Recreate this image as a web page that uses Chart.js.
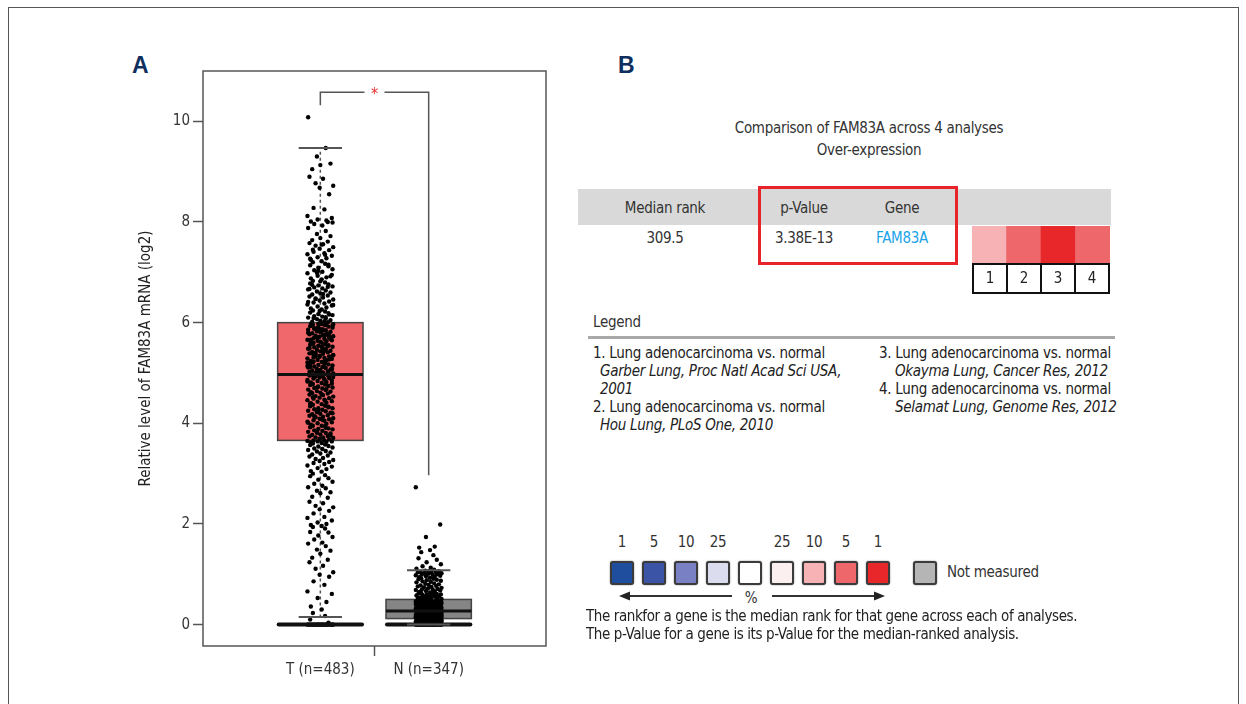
<!doctype html>
<html>
<head>
<meta charset="utf-8">
<title>FAM83A expression</title>
<script src="https://cdn.jsdelivr.net/npm/chart.js"></script>
<style>
  body { margin:0; width:1246px; height:704px; background:#fff; position:relative; overflow:hidden;
         font-family:'Liberation Sans Narrow','DejaVu Sans Condensed',sans-serif; color:#222; }
  .frame { position:absolute; left:8px; top:7px; width:1229px; height:740px; border:1.5px solid #555; }
  .t { position:absolute; white-space:nowrap; line-height:18px; font-size:15px; letter-spacing:-0.3px; }
  .c { transform:translate(-50%,-50%); }
  .l { transform:translate(0,-50%); }
  .panel { position:absolute; font-family:'Liberation Sans','DejaVu Sans',sans-serif; font-weight:bold;
           font-size:23px; color:#0f2f5f; line-height:24px; }
  #chartA { position:absolute; left:120px; top:40px; }
  #heat { position:absolute; left:972px; top:226px; }
  .numrow { position:absolute; left:972px; top:263px; width:138px; height:31px; display:flex;
            box-sizing:border-box; border:2px solid #111; }
  .numrow div { flex:1; border-left:2px solid #111; text-align:center; line-height:27px; font-size:15px; }
  .numrow div:first-child { border-left:none; }
</style>
</head>
<body>
<div class="frame"></div>
<div class="panel" style="left:132px; top:53px;">A</div>
<div class="panel" style="left:618px; top:53px;">B</div>
<canvas id="chartA" width="440" height="660"></canvas>

<div id="panelB"></div>
<canvas id="heat" width="138" height="37"></canvas>

<script>
// ---- panel A data ----
const categories = ['T (n=483)', 'N (n=347)'];
const boxQ1 = [3.66, 0.12];
const boxMedian = [4.97, 0.27];
const boxQ3 = [6.0, 0.5];
const whiskerLow = [0.15, 0];
const whiskerHigh = [9.47, 1.08];
const yTicks = [0, 2, 4, 6, 8, 10];
const sigBracketY = 10.58;
const sigBracketStart = [10.32, 2.97];
const sigLabel = '*';

const tumorValues = [
  0,0,0,0,0,0,0,0,0,0,0,0,0,0,0,0,0,0,0,0,0,0,0,0,0,
  0.04,0.1,0.17,0.23,0.3,0.36,0.45,0.53,0.61,0.66,0.79,0.86,0.95,0.99,
  1.04,1.11,1.17,1.24,1.29,1.33,1.41,1.47,1.49,1.56,1.61,1.63,1.69,1.74,1.77,1.83,1.84,1.91,1.94,1.96,1.98,2.0,
  2.03,2.07,2.12,2.14,2.21,2.26,2.29,2.33,2.36,2.41,2.44,2.52,2.54,2.61,2.63,2.66,2.71,2.73,2.76,2.8,2.84,2.88,2.91,2.95,2.97,
  3.0,3.04,3.05,3.09,3.11,3.14,3.16,3.19,3.21,3.23,3.25,3.27,3.29,3.31,3.34,3.36,3.38,3.4,3.42,3.44,3.45,3.47,3.49,3.5,
  3.52,3.54,3.55,3.57,3.58,3.6,3.61,3.62,3.63,3.64,3.64,
  3.65,3.66,3.66,3.68,3.69,3.71,3.72,3.72,3.74,3.75,3.77,3.78,3.8,3.81,3.81,3.83,3.85,3.86,3.88,3.89,3.9,3.92,3.94,3.95,
  3.95,3.97,3.99,4.0,4.02,4.03,4.05,4.06,4.08,4.09,4.1,4.12,4.13,4.15,4.16,4.18,4.19,4.21,4.22,4.24,4.25,4.27,4.28,4.3,
  4.3,4.32,4.34,4.35,4.37,4.38,4.4,4.41,4.43,4.44,4.46,4.47,4.49,4.5,4.51,4.53,4.54,4.56,4.57,4.59,4.6,4.61,4.63,4.64,
  4.66,4.67,4.69,4.7,4.71,4.73,4.74,4.76,4.77,4.78,4.8,4.81,4.82,4.84,4.85,4.86,4.87,4.89,4.9,4.91,4.92,4.93,4.94,4.95,
  4.96,4.97,3.7,3.76,3.84,3.91,4.01,4.07,4.14,4.2,4.26,4.33,4.39,4.45,4.52,4.58,4.62,4.68,4.72,4.79,4.83,4.88,4.93,4.96,
  4.98,4.99,5.0,5.01,5.02,5.03,5.05,5.06,5.07,5.08,5.1,5.11,5.12,5.13,5.15,5.16,5.17,5.19,5.2,5.21,5.22,5.24,5.25,5.26,
  5.28,5.29,5.3,5.31,5.33,5.34,5.35,5.37,5.38,5.39,5.41,5.42,5.43,5.44,5.46,5.47,5.48,5.5,5.51,5.52,5.54,5.55,5.56,5.57,
  5.59,5.6,5.61,5.63,5.64,5.65,5.66,5.68,5.69,5.7,5.72,5.73,5.74,5.75,5.77,5.78,5.79,5.81,5.82,5.83,5.85,5.86,5.87,5.88,
  5.9,5.91,5.92,5.93,5.95,5.96,5.97,5.98,5.99,5.04,5.09,5.14,5.18,5.23,5.27,5.32,5.36,5.4,5.45,5.49,5.53,5.58,5.62,5.67,
  5.71,5.76,5.8,5.84,5.89,5.94,5.98,5.0,5.12,5.26,5.38,5.52,5.66,5.78,5.9,5.07,5.21,5.44,5.6,5.74,5.87,5.97,5.33,5.47,5.15,
  6.01,6.02,6.04,6.05,6.07,6.08,6.1,6.12,6.13,6.15,6.17,6.19,6.2,6.22,6.24,6.26,6.28,6.3,6.32,6.34,6.36,6.38,6.4,6.42,
  6.44,6.46,6.48,6.5,6.52,6.54,6.56,6.58,6.6,6.62,6.64,6.66,6.68,6.7,6.72,6.74,6.76,6.78,6.8,6.83,6.86,6.88,6.9,6.93,
  6.95,6.98,6.03,6.09,6.16,6.23,6.35,6.47,6.57,6.67,6.71,6.75,6.82,6.92,6.99,6.11,6.41,
  7.01,7.04,7.06,7.09,7.12,7.14,7.17,7.2,7.22,7.25,7.28,7.3,7.33,7.36,7.38,7.41,7.44,7.47,7.5,7.53,7.56,7.58,7.61,7.64,
  7.68,7.72,7.76,7.82,7.88,7.93,7.96,7.99,7.03,7.15,7.27,7.35,7.45,7.55,
  8.01,8.03,8.05,8.08,8.12,8.25,8.28,8.55,8.68,8.72,8.77,8.86,8.9,8.0,
  9.05,9.13,9.16,9.3,9.47,10.08
];

const normalValues = [
  0,0,0,0,0,0,0,0,0,0,0,0,0,0,0,0,0,0,0,0,0,0,0,0,0,0,0,0,0,0,
  0.01,0.01,0.01,0.02,0.02,0.02,0.02,0.03,0.03,0.03,0.03,0.03,0.04,0.04,0.04,0.04,0.04,0.05,0.05,0.05,0.05,0.05,0.05,
  0.06,0.06,0.06,0.06,0.06,0.06,0.07,0.07,0.07,0.07,0.07,0.07,0.07,0.08,0.08,0.08,0.08,0.08,
  0.01,0.02,0.03,0.04,0.05,0.06,0.07,0.02,0.03,0.04,0.05,0.06,0.07,0.08,0.01,0.05,
  0.09,0.09,0.09,0.09,0.1,0.1,0.1,0.1,0.1,0.11,0.11,0.11,0.11,0.11,0.12,0.12,0.12,0.12,0.12,0.12,0.13,0.13,0.13,0.13,
  0.13,0.13,0.14,0.14,0.14,0.14,0.14,0.14,0.15,0.15,0.15,0.15,0.15,0.15,0.16,0.16,0.16,0.16,0.16,0.16,0.17,0.17,0.17,
  0.17,0.17,0.17,0.18,0.18,0.18,0.18,0.18,0.18,0.19,0.19,0.19,0.19,0.19,0.19,0.2,0.2,0.2,0.2,0.2,0.2,0.21,0.21,0.21,
  0.21,0.21,0.21,0.22,0.22,0.22,0.22,0.22,0.1,0.12,0.14,0.16,0.18,0.2,0.15,0.19,
  0.23,0.23,0.23,0.24,0.24,0.24,0.25,0.25,0.25,0.26,0.26,0.26,0.27,0.27,0.27,0.28,0.28,0.28,0.29,0.29,0.29,0.3,0.3,0.3,
  0.31,0.31,0.31,0.32,0.32,0.32,0.33,0.33,0.33,0.34,0.34,0.34,0.35,0.35,0.35,0.36,0.36,0.36,0.37,0.37,0.37,0.38,0.38,
  0.38,0.39,0.39,0.39,0.4,0.4,0.4,0.41,0.41,0.41,0.42,0.42,0.42,0.43,0.43,0.43,0.44,0.44,0.44,0.45,0.45,0.45,0.46,0.46,
  0.46,0.47,0.47,0.47,0.48,0.48,0.48,0.25,0.28,0.31,0.34,0.37,0.4,0.43,0.46,0.3,
  0.49,0.5,0.5,0.51,0.52,0.52,0.53,0.54,0.54,0.55,0.56,0.56,0.57,0.58,0.58,0.59,0.6,0.6,0.61,0.62,0.63,0.63,0.64,0.65,
  0.66,0.67,0.68,0.69,0.7,0.7,0.71,0.72,0.73,0.74,0.75,
  0.76,0.77,0.78,0.79,0.8,0.81,0.82,0.84,0.85,0.86,0.87,0.88,0.89,0.9,0.91,0.92,0.93,0.94,0.95,0.96,0.97,0.98,
  0.99,1.0,1.0,1.01,1.02,1.02,1.03,1.04,1.04,1.05,1.06,1.06,1.07,
  1.09,1.11,1.13,1.16,1.2,1.24,1.29,1.32,1.38,1.44,1.48,1.53,1.55,1.74,1.99,2.73
];

// ---- panel B data ----
const headerCols = ['Median rank', 'p-Value', 'Gene'];
const rowValues = ['309.5', '3.38E-13', 'FAM83A'];
const analysisIds = ['1', '2', '3', '4'];
const analysisTopPct = [10, 5, 1, 5];
const analysisNames = [
  ['1. Lung adenocarcinoma vs. normal', 'Garber Lung, Proc Natl Acad Sci USA,', '2001'],
  ['2. Lung adenocarcinoma vs. normal', 'Hou Lung, PLoS One, 2010'],
  ['3. Lung adenocarcinoma vs. normal', 'Okayma Lung, Cancer Res, 2012'],
  ['4. Lung adenocarcinoma vs. normal', 'Selamat Lung, Genome Res, 2012']
];
const scaleLabels = ['1', '5', '10', '25', '', '25', '10', '5', '1'];
const scaleColors = ['#1f4e9f', '#3b54a5', '#7a80c4', '#dcdcef', '#ffffff', '#fcefef', '#f6b2b4', '#ee686b', '#e72729'];
const notMeasuredColor = '#b5b5b5';

// styles
const FONT = "'Liberation Sans Narrow','DejaVu Sans Condensed',sans-serif";
const BOX_HALF = 0.394, CAP_HALF = 0.2, JITTER_W = 0.125;
const JITTER = [0.1,-0.7,0.45,-0.2,0.85,-0.95,0.3,-0.5,0.65,-0.05,0.95,-0.35,0.2,-0.8,0.55,-0.6,0.0,0.75,-0.25,0.4,-0.9,0.15,-0.45,0.9,-0.15,0.6,-0.75,0.35,-0.55];
const boxFill = ['#f0686b', '#858585'];

const boxPlugin = {
  id: 'boxes',
  beforeDatasetsDraw(chart) {
    const {ctx, scales: {x, y}} = chart;
    ctx.save();
    categories.forEach((c, i) => {
      const cx = x.getPixelForValue(i + 1);
      // dashed whiskers
      ctx.strokeStyle = '#555'; ctx.lineWidth = 1.5; ctx.setLineDash([3, 3]);
      ctx.beginPath();
      ctx.moveTo(cx, y.getPixelForValue(boxQ3[i])); ctx.lineTo(cx, y.getPixelForValue(whiskerHigh[i]));
      ctx.moveTo(cx, y.getPixelForValue(boxQ1[i])); ctx.lineTo(cx, y.getPixelForValue(whiskerLow[i]));
      ctx.stroke();
      ctx.setLineDash([]);
      const xl = x.getPixelForValue(i + 1 - BOX_HALF), xr = x.getPixelForValue(i + 1 + BOX_HALF);
      const yt = y.getPixelForValue(boxQ3[i]), yb = y.getPixelForValue(boxQ1[i]);
      ctx.fillStyle = boxFill[i];
      ctx.fillRect(xl, yt, xr - xl, yb - yt);
      ctx.strokeStyle = '#444'; ctx.lineWidth = 1.5;
      ctx.strokeRect(xl, yt, xr - xl, yb - yt);
    });
    ctx.restore();
  },
  afterDatasetsDraw(chart) {
    const {ctx, chartArea: a, scales: {x, y}} = chart;
    ctx.save();
    categories.forEach((c, i) => {
      const xl = x.getPixelForValue(i + 1 - BOX_HALF), xr = x.getPixelForValue(i + 1 + BOX_HALF);
      const cl = x.getPixelForValue(i + 1 - CAP_HALF), cr = x.getPixelForValue(i + 1 + CAP_HALF);
      ctx.strokeStyle = '#111'; ctx.lineWidth = 3;
      ctx.beginPath();
      const ym = y.getPixelForValue(boxMedian[i]);
      ctx.moveTo(xl, ym); ctx.lineTo(xr, ym);
      ctx.stroke();
      ctx.lineWidth = 4; ctx.lineCap = 'round';
      ctx.beginPath();
      const y0 = y.getPixelForValue(0);
      ctx.moveTo(xl + 1, y0); ctx.lineTo(xr - 1, y0);
      ctx.stroke();
      ctx.lineCap = 'butt';
      ctx.strokeStyle = '#555'; ctx.lineWidth = 2;
      ctx.beginPath();
      [whiskerHigh[i], whiskerLow[i]].forEach(v => {
        const yy = y.getPixelForValue(v);
        ctx.moveTo(cl, yy); ctx.lineTo(cr, yy);
      });
      ctx.stroke();
    });
    // significance bracket
    const bx1 = x.getPixelForValue(1), bx2 = x.getPixelForValue(2), bm = x.getPixelForValue(1.5);
    const by = y.getPixelForValue(sigBracketY);
    ctx.strokeStyle = '#555'; ctx.lineWidth = 1.5;
    ctx.beginPath();
    ctx.moveTo(bx1, y.getPixelForValue(sigBracketStart[0])); ctx.lineTo(bx1, by); ctx.lineTo(bm - 10, by);
    ctx.moveTo(bm + 10, by); ctx.lineTo(bx2, by); ctx.lineTo(bx2, y.getPixelForValue(sigBracketStart[1]));
    ctx.stroke();
    ctx.fillStyle = '#e8332f'; ctx.font = '16px ' + FONT; ctx.textAlign = 'center'; ctx.textBaseline = 'middle';
    ctx.fillText(sigLabel, bm, by + 3);
    // plot frame
    ctx.strokeStyle = '#555'; ctx.lineWidth = 1.5;
    ctx.strokeRect(a.left, a.top, a.right - a.left, a.bottom - a.top);
    ctx.restore();
  }
};

new Chart(document.getElementById('chartA'), {
  type: 'scatter',
  data: {
    datasets: [
      { data: tumorValues.map((v, i) => ({x: 1 + JITTER[i % JITTER.length] * JITTER_W, y: v})),
        pointRadius: 2.2, backgroundColor: '#000', borderWidth: 0 },
      { data: normalValues.map((v, i) => ({x: 2 + JITTER[(i + 7) % JITTER.length] * JITTER_W, y: v})),
        pointRadius: 2.2, backgroundColor: '#000', borderWidth: 0 }
    ]
  },
  options: {
    responsive: false, animation: false,
    layout: { padding: { top: 31, right: 14, left: 0, bottom: 0 } },
    plugins: { legend: { display: false }, tooltip: { enabled: false } },
    scales: {
      x: {
        type: 'linear', min: -0.083, max: 3.083,
        afterBuildTicks: s => { s.ticks = [{value: 1}, {value: 1.5}, {value: 2}]; },
        afterFit: s => { s.height = 54; },
        ticks: { callback: v => v === 1 ? categories[0] : (v === 2 ? categories[1] : ''),
                 font: { size: 15, family: FONT }, color: '#333', padding: 5, maxRotation: 0, autoSkip: false },
        grid: { drawOnChartArea: false, tickLength: 10, tickWidth: 1.5,
                tickColor: c => (c.tick && c.tick.value === 1.5) ? '#555' : 'rgba(0,0,0,0)' },
        border: { display: false }
      },
      y: {
        min: -0.425, max: 11,
        afterBuildTicks: s => { s.ticks = yTicks.map(v => ({value: v})); },
        afterFit: s => { s.width = 83; },
        ticks: { font: { size: 15, family: FONT }, color: '#333', padding: 3 },
        grid: { drawOnChartArea: false, tickLength: 10, tickColor: '#555', tickWidth: 1.5 },
        border: { display: false },
        title: { display: true, text: 'Relative level of FAM83A mRNA (log2)', color: '#222',
                 font: { size: 15, family: FONT }, padding: { top: 17, bottom: 0 } }
      }
    }
  },
  plugins: [boxPlugin]
});

// ---- panel B ----
const pb = document.getElementById('panelB');
function put(text, x, y, cls, style) {
  const d = document.createElement('div');
  d.className = 't ' + cls;
  d.textContent = text;
  d.style.left = x + 'px'; d.style.top = y + 'px';
  if (style) d.style.cssText += style;
  pb.appendChild(d);
  return d;
}
function box(x, y, w, h, style) {
  const d = document.createElement('div');
  d.style.cssText = `position:absolute;left:${x}px;top:${y}px;width:${w}px;height:${h}px;box-sizing:border-box;` + style;
  pb.appendChild(d);
  return d;
}

put('Comparison of FAM83A across 4 analyses', 869, 128, 'c', 'color:#333;');
put('Over-expression', 869, 150, 'c', 'color:#333;');

box(578, 189, 533, 36, 'background:#d9d9d9;');
box(758, 186, 200, 79, 'border:3px solid #e8232a;');
const colX = [665, 804, 902];
headerCols.forEach((h, i) => put(h, colX[i], 208, 'c', 'color:#333;'));
rowValues.forEach((v, i) => put(v, colX[i], 238, 'c', i === 2 ? 'color:#1aa3e8;' : 'color:#333;'));

const nr = document.createElement('div');
nr.className = 'numrow';
analysisIds.forEach(id => { const d = document.createElement('div'); d.textContent = id; nr.appendChild(d); });
document.body.appendChild(nr);

put('Legend', 593, 322, 'l', 'color:#333;');
box(588, 336, 527, 3, 'background:#a9a9a9;');
const legendPos = [[593, 353], [593, 407], [879, 353], [879, 389]];
analysisNames.forEach((lines, k) => {
  const [lx, ly] = legendPos[k];
  lines.forEach((s, j) => {
    put(s, j === 0 ? lx : lx + (k < 2 ? 7 : 16), ly + j * 18, 'l', j === 0 ? '' : 'font-style:italic;');
  });
});

scaleColors.forEach((col, i) => {
  const left = 610 + i * 32;
  box(left, 561, 24, 24, `border:2px solid #3b3b3b;border-radius:3px;box-shadow:0 0 1.5px #666;background:${col};`);
  if (scaleLabels[i]) put(scaleLabels[i], left + 12, 542, 'c', 'color:#333;');
});
box(913, 561, 24, 24, `border:2px solid #3b3b3b;border-radius:3px;box-shadow:0 0 1.5px #666;background:${notMeasuredColor};`);
put('Not measured', 947, 572, 'l', 'color:#333;');
put('%', 751, 598, 'c', 'color:#333;');

const svgNS = 'http://www.w3.org/2000/svg';
const svg = document.createElementNS(svgNS, 'svg');
svg.setAttribute('width', 1246); svg.setAttribute('height', 704);
svg.style.cssText = 'position:absolute;left:0;top:0;';
svg.innerHTML = '<line x1="732" y1="596" x2="628" y2="596" stroke="#333" stroke-width="2"/>' +
  '<polygon points="619,596 630,591.5 630,600.5" fill="#222"/>' +
  '<line x1="772" y1="596" x2="876" y2="596" stroke="#333" stroke-width="2"/>' +
  '<polygon points="885,596 874,591.5 874,600.5" fill="#222"/>';
pb.appendChild(svg);

put('The rankfor a gene is the median rank for that gene across each of analyses.', 586, 616, 'l', 'letter-spacing:-0.4px;');
put('The p-Value for a gene is its p-Value for the median-ranked analysis.', 586, 634, 'l', 'letter-spacing:-0.4px;');

// heat strip: one cell per analysis, colour from the top-% scale
const redLabels = scaleLabels.slice(5), redColors = scaleColors.slice(5);
new Chart(document.getElementById('heat'), {
  type: 'bar',
  data: {
    labels: analysisIds,
    datasets: [{
      data: analysisIds.map(() => [0, 1]),
      backgroundColor: analysisTopPct.map(p => redColors[redLabels.indexOf(String(p))]),
      categoryPercentage: 1, barPercentage: 1, borderWidth: 0
    }]
  },
  options: {
    responsive: false, animation: false,
    layout: { padding: 0 },
    plugins: { legend: { display: false }, tooltip: { enabled: false } },
    scales: { x: { display: false }, y: { display: false, min: 0, max: 1 } }
  }
});
</script>
</body>
</html>
